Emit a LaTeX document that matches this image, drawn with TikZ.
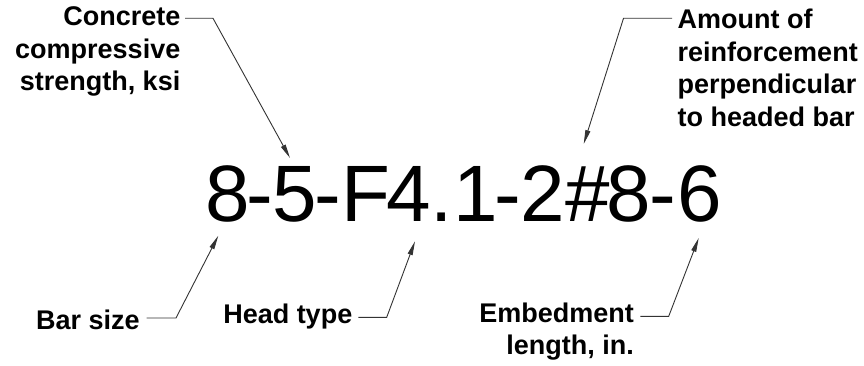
\documentclass[tikz,border=0pt]{standalone}
\usepackage{fontspec}
\setmainfont{Liberation Sans}
\usetikzlibrary{arrows.meta}
\begin{document}
\begin{tikzpicture}[x=1pt,y=-1pt,
  lbl/.style={inner sep=0pt, font=\fontsize{27}{32.5}\selectfont\bfseries},
  leader/.style={draw=black!80, line width=0.9pt, -{Triangle[length=14pt,width=5pt]}},
  code/.style={inner sep=0pt, font=\fontsize{80}{96}\selectfont}]
\useasboundingbox (0,0) rectangle (864,366);
\node[code, anchor=base west] (code) at (204.9,221.5) {8\kern-2.9pt-\kern-0.5pt5\kern-2.6pt-\kern0.3pt F\kern-4.4pt4\kern0.3pt.\kern0.4pt1\kern-3.3pt-\kern-0.5pt2\#\kern-2.9pt8\kern-1.6pt-\kern0.9pt6};
\coordinate (t1) at (290,158);
\coordinate (t2) at (583.7,144);
\coordinate (t3) at (218.3,235.7);
\coordinate (t4) at (415,241.3);
\coordinate (t5) at (698.7,238);
\node[lbl, anchor=base east] (conc) at (180.5,26) {\begin{tabular}[t]{@{}r@{}}Concrete\\compressive\\strength, ksi\end{tabular}};
\node[lbl, anchor=base west] (amt) at (677.5,29) {\begin{tabular}[t]{@{}l@{}}Amount of\\reinforcement\\perpendicular\\to headed bar\end{tabular}};
\node[lbl, anchor=base east] (bar) at (140,329) {Bar size};
\node[lbl, anchor=base east] (head) at (352.5,323) {Head type};
\node[lbl, anchor=base east] (emb) at (634,322.3) {\begin{tabular}[t]{@{}r@{}}Embedment\\length, in.\end{tabular}};
\draw[leader] ([shift={(4.5,-7.7)}]conc.base east) -- ++(28,0) -- (t1);
\draw[leader] ([shift={(-5.5,-10.7)}]amt.base west) -- ++(-48.5,0) -- (t2);
\draw[leader] ([shift={(6.7,-11)}]bar.base east) -- ++(29.3,0) -- (t3);
\draw[leader] ([shift={(5.8,-5.7)}]head.base east) -- ++(28.4,0) -- (t4);
\draw[leader] ([shift={(6.3,-6)}]emb.base east) -- ++(28.4,0) -- (t5);
\end{tikzpicture}
\end{document}
